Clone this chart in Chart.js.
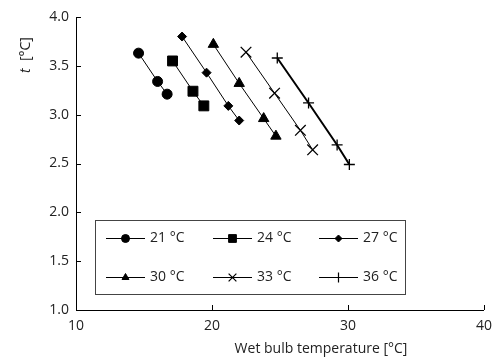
<!DOCTYPE html>
<html>
<head>
<meta charset="utf-8">
<script src="https://cdn.jsdelivr.net/npm/chart.js@4.4.0/dist/chart.umd.min.js"></script>
<style>
  body { margin: 0; background: #fff; }
  #wrap { width: 500px; height: 360px; position: relative; }
</style>
</head>
<body>
<div id="wrap"><canvas id="chart"></canvas></div>
<script>
const seriesLabels = ['21 °C', '24 °C', '27 °C', '30 °C', '33 °C', '36 °C'];
const pointStyles = ['circle', 'rect', 'rectRot', 'triangle', 'crossRot', 'cross'];
const markerSizes = [5, 7, 4.5, 6, 7.5, 5.5];

const wb21 = [14.6, 16.0, 16.7];
const t21 = [3.63, 3.34, 3.21];
const wb24 = [17.1, 18.6, 19.4];
const t24 = [3.55, 3.24, 3.09];
const wb27 = [17.8, 19.6, 21.2, 22.0];
const t27 = [3.80, 3.43, 3.09, 2.94];
const wb30 = [20.1, 22.0, 23.8, 24.7];
const t30 = [3.72, 3.32, 2.96, 2.78];
const wb33 = [22.5, 24.6, 26.5, 27.4];
const t33 = [3.64, 3.22, 2.84, 2.64];
const wb36 = [24.8, 27.1, 29.2, 30.1];
const t36 = [3.58, 3.12, 2.69, 2.49];

const xTicks = [10, 20, 30, 40];
const yTicks = [1.0, 1.5, 2.0, 2.5, 3.0, 3.5, 4.0];

const allX = [wb21, wb24, wb27, wb30, wb33, wb36];
const allY = [t21, t24, t27, t30, t33, t36];

const FONT = '"Open Sans", "Noto Sans", sans-serif';

function toPoints(xs, ys) {
    return xs.map((x, i) => ({ x: x, y: ys[i] }));
}

const datasets = seriesLabels.map((label, i) => ({
    label: label,
    data: toPoints(allX[i], allY[i]),
    showLine: true,
    borderColor: '#000',
    backgroundColor: '#000',
    borderWidth: i === 5 ? 2 : 1,
    pointStyle: pointStyles[i],
    pointRadius: markerSizes[i],
    pointBorderWidth: (i >= 4) ? 1.3 : 1,
    pointBackgroundColor: '#000',
    pointBorderColor: '#000',
    tension: 0
}));

// inward ticks, axis titles and the boxed legend
const decorPlugin = {
    id: 'decor',
    afterDraw(chart) {
        const ctx = chart.ctx;
        const xs = chart.scales.x;
        const ys = chart.scales.y;
        const area = chart.chartArea;
        ctx.save();
        ctx.strokeStyle = '#000';
        ctx.lineWidth = 1;
        ctx.beginPath();
        xTicks.forEach(v => {
            const px = Math.round(xs.getPixelForValue(v)) + 0.5;
            ctx.moveTo(px, area.bottom);
            ctx.lineTo(px, area.bottom - 5);
        });
        yTicks.forEach(v => {
            const py = Math.round(ys.getPixelForValue(v)) + 0.5;
            ctx.moveTo(area.left, py);
            ctx.lineTo(area.left + 5, py);
        });
        ctx.stroke();

        // axis titles
        ctx.fillStyle = '#222';
        ctx.font = '14px ' + FONT;
        ctx.textAlign = 'center';
        ctx.textBaseline = 'middle';
        ctx.fillText('Wet bulb temperature [°C]', 321, 349);

        ctx.save();
        ctx.translate(26, 55);
        ctx.rotate(-Math.PI / 2);
        ctx.textAlign = 'left';
        ctx.font = 'italic 14px ' + FONT;
        const tw = ctx.measureText('t').width;
        ctx.font = '14px ' + FONT;
        const rest = '  [°C]';
        const rw = ctx.measureText(rest).width;
        const start = -(tw + rw) / 2;
        ctx.font = 'italic 14px ' + FONT;
        ctx.fillText('t', start, 0);
        ctx.font = '14px ' + FONT;
        ctx.fillText(rest, start + tw, 0);
        ctx.restore();

        // legend box
        ctx.fillStyle = '#fff';
        ctx.fillRect(95, 220, 310, 74);
        ctx.strokeStyle = '#444';
        ctx.lineWidth = 1;
        ctx.strokeRect(95.5, 220.5, 310, 74);

        const cols = [106, 213, 319];
        const rows = [238, 277];
        const legendSizes = [4, 5.5, 3.5, 4, 5.5, 5];
        ctx.font = '14px ' + FONT;
        ctx.textAlign = 'left';
        ctx.textBaseline = 'middle';
        seriesLabels.forEach((label, i) => {
            const x0 = cols[i % 3];
            const y0 = rows[Math.floor(i / 3)] + 0.5;
            ctx.strokeStyle = '#000';
            ctx.lineWidth = 1;
            ctx.beginPath();
            ctx.moveTo(x0, y0);
            ctx.lineTo(x0 + 39, y0);
            ctx.stroke();
            ctx.fillStyle = '#000';
            ctx.lineWidth = i >= 4 ? 1.2 : 1;
            Chart.helpers.drawPoint(ctx, {
                pointStyle: pointStyles[i],
                radius: legendSizes[i],
                rotation: 0,
                borderWidth: 1
            }, x0 + 19.5, y0);
            ctx.fillStyle = '#222';
            ctx.fillText(label, x0 + 44, y0);
        });
        ctx.restore();
    }
};

new Chart(document.getElementById('chart'), {
    type: 'scatter',
    data: { datasets: datasets },
    options: {
        responsive: true,
        maintainAspectRatio: false,
        animation: false,
        layout: { padding: { top: 17, right: 16, left: 0, bottom: 0 } },
        plugins: {
            legend: { display: false },
            tooltip: { enabled: false }
        },
        scales: {
            x: {
                type: 'linear',
                min: 10,
                max: 40,
                afterFit(scale) { scale.height = 50; },
                afterBuildTicks(scale) { scale.ticks = xTicks.map(v => ({ value: v })); },
                grid: { display: false, drawTicks: false },
                border: { display: true, color: '#000', width: 1 },
                ticks: {
                    padding: 8,
                    color: '#222',
                    font: { size: 14, family: FONT },
                    callback: v => String(v)
                }
            },
            y: {
                type: 'linear',
                min: 1.0,
                max: 4.0,
                afterFit(scale) { scale.width = 76; },
                afterBuildTicks(scale) { scale.ticks = yTicks.map(v => ({ value: v })); },
                grid: { display: false, drawTicks: false },
                border: { display: true, color: '#000', width: 1 },
                ticks: {
                    padding: 7,
                    color: '#222',
                    font: { size: 14, family: FONT },
                    callback: v => Number(v).toFixed(1)
                }
            }
        }
    },
    plugins: [decorPlugin]
});
</script>
</body>
</html>
